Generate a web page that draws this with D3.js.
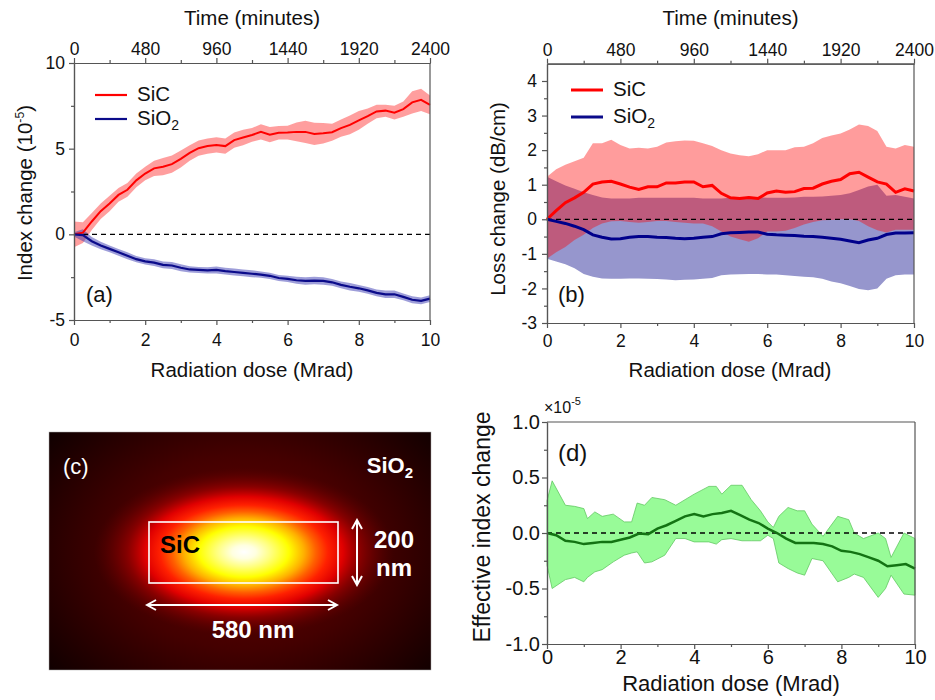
<!DOCTYPE html>
<html>
<head>
<script src="https://cdnjs.cloudflare.com/ajax/libs/d3/7.8.5/d3.min.js"></script>
<style>
  body { margin: 0; background: #fff; }
  svg text { font-family: "Liberation Sans", Arial, sans-serif; }
</style>
</head>
<body>
<svg id="fig" width="935" height="700"></svg>
<script>
// ---- data ----
const dose = [0,0.25,0.5,0.75,1,1.25,1.5,1.75,2,2.25,2.5,2.75,3,3.25,3.5,3.75,4,4.25,4.5,4.75,5,
              5.25,5.5,5.75,6,6.25,6.5,6.75,7,7.25,7.5,7.75,8,8.25,8.5,8.75,9,9.25,9.5,9.75,10];
const timeTicks = [0, 480, 960, 1440, 1920, 2400];

// (a) index change, units of 1e-5
const aSiC    = [0,0.1,0.75,1.35,1.8,2.3,2.6,3.15,3.55,3.85,3.95,4.1,4.4,4.75,5.03,5.15,5.22,5.15,5.5,5.65,5.8,
                 5.98,5.82,5.93,5.94,5.98,5.98,5.86,5.9,5.96,6.2,6.39,6.65,6.9,7.17,7.22,7.1,7.31,7.7,7.85,7.56];
const aSiCErr = [0.75,0.6,0.5,0.45,0.45,0.4,0.4,0.4,0.4,0.45,0.5,0.5,0.5,0.45,0.45,0.45,0.45,0.45,0.45,0.45,0.4,
                 0.45,0.45,0.4,0.4,0.55,0.65,0.65,0.6,0.5,0.5,0.55,0.55,0.45,0.4,0.35,0.4,0.45,0.65,0.65,0.55];
const aSiO2    = [0,-0.05,-0.4,-0.65,-0.85,-1.05,-1.25,-1.45,-1.58,-1.65,-1.78,-1.82,-1.95,-2.05,-2.08,-2.1,-2.08,
                  -2.15,-2.2,-2.25,-2.3,-2.35,-2.42,-2.55,-2.6,-2.68,-2.72,-2.7,-2.72,-2.8,-2.95,-3.06,-3.15,-3.27,
                  -3.42,-3.5,-3.5,-3.65,-3.82,-3.88,-3.75];
const aSiO2Err = [0.12,0.35,0.25,0.22,0.2,0.2,0.2,0.18,0.18,0.2,0.2,0.2,0.2,0.18,0.18,0.18,0.2,0.2,0.2,0.2,0.2,
                  0.18,0.18,0.18,0.18,0.2,0.22,0.22,0.22,0.2,0.2,0.22,0.2,0.2,0.2,0.22,0.22,0.2,0.2,0.2,0.2];

// (b) loss change, dB/cm
const bSiC   = [0,0.25,0.48,0.62,0.78,1.02,1.08,1.1,1.02,0.93,0.86,0.94,0.94,1.05,1.05,1.08,1.08,0.94,0.98,0.75,0.62,
                0.6,0.63,0.6,0.76,0.82,0.78,0.8,0.89,0.9,1.02,1.1,1.15,1.32,1.36,1.22,1.08,1.02,0.78,0.88,0.82];
const bSiCHi = [1.23,1.45,1.58,1.68,1.78,2.2,2.2,2.3,2.15,2.05,2.07,2.05,2.1,2.22,2.26,2.28,2.27,2.2,2.12,2.0,1.9,
                1.85,1.82,1.88,2.0,2.0,2.0,2.08,2.1,2.2,2.35,2.42,2.48,2.6,2.74,2.7,2.55,2.1,2.05,2.15,2.1];
const bSiCLo = [-1.14,-0.95,-0.8,-0.6,-0.45,-0.25,-0.12,-0.06,-0.05,-0.08,-0.1,-0.08,-0.05,-0.05,-0.08,-0.1,-0.12,
                -0.12,-0.2,-0.35,-0.5,-0.58,-0.65,-0.55,-0.35,-0.35,-0.33,-0.25,-0.15,-0.08,-0.03,-0.02,0,0,-0.05,
                -0.2,-0.32,-0.38,-0.3,-0.3,-0.3];
const bSiO2   = [0,-0.06,-0.12,-0.2,-0.3,-0.45,-0.52,-0.57,-0.56,-0.52,-0.5,-0.5,-0.52,-0.53,-0.55,-0.56,-0.55,-0.52,
                 -0.5,-0.42,-0.39,-0.38,-0.37,-0.37,-0.43,-0.45,-0.46,-0.47,-0.49,-0.5,-0.52,-0.55,-0.58,-0.63,-0.68,
                 -0.6,-0.55,-0.44,-0.4,-0.4,-0.39];
const bSiO2Hi = [1.23,1.1,0.98,0.88,0.78,0.7,0.63,0.6,0.6,0.6,0.62,0.62,0.62,0.62,0.62,0.62,0.62,0.6,0.6,0.6,0.62,
                 0.63,0.65,0.64,0.62,0.62,0.62,0.63,0.65,0.65,0.66,0.68,0.7,0.75,0.85,0.95,1.0,0.68,0.7,0.65,0.6];
const bSiO2Lo = [-1.14,-1.22,-1.3,-1.42,-1.58,-1.66,-1.71,-1.72,-1.72,-1.71,-1.71,-1.72,-1.73,-1.74,-1.76,-1.75,
                 -1.74,-1.72,-1.7,-1.62,-1.6,-1.59,-1.58,-1.58,-1.6,-1.6,-1.62,-1.64,-1.66,-1.68,-1.72,-1.8,-1.85,
                 -1.93,-2.02,-2.05,-2.0,-1.72,-1.62,-1.6,-1.6];

// (d) effective index change, units of 1e-5
const dMean  = [0,-0.02,-0.07,-0.08,-0.1,-0.09,-0.08,-0.08,-0.06,-0.04,-0.005,-0.01,0.04,0.07,0.11,0.15,0.17,0.15,
                0.17,0.18,0.2,0.16,0.12,0.09,0.04,0,-0.05,-0.09,-0.09,-0.09,-0.1,-0.12,-0.16,-0.17,-0.19,-0.22,
                -0.25,-0.3,-0.29,-0.28,-0.32];
const dBandDose = [0,0.14,0.5,0.75,1.0,1.1,1.3,1.5,1.8,2.1,2.3,2.45,2.65,2.85,3.2,3.5,3.75,4.0,4.4,4.6,4.75,5.0,
                   5.3,5.55,5.8,6.0,6.15,6.3,6.55,6.8,7.0,7.2,7.5,7.9,8.2,8.35,8.6,9.0,9.2,9.35,9.7,10];
const dHi = [0.29,0.47,0.25,0.24,0.22,0.13,0.19,0.15,0.17,0.1,0.1,0.27,0.25,0.32,0.3,0.25,0.3,0.35,0.42,0.42,0.35,
             0.43,0.43,0.3,0.2,0.1,0.05,0.15,0.23,0.2,0.2,0.08,-0.03,0.15,0.12,0.0,-0.05,0.0,-0.05,-0.22,0.0,-0.05];
const dLo = [-0.29,-0.5,-0.42,-0.4,-0.44,-0.4,-0.35,-0.33,-0.26,-0.2,-0.18,-0.17,-0.27,-0.26,-0.2,-0.05,-0.05,-0.08,
             -0.08,-0.1,-0.06,-0.05,-0.07,-0.07,-0.07,-0.02,-0.05,-0.27,-0.32,-0.36,-0.38,-0.23,-0.25,-0.44,-0.4,
             -0.37,-0.4,-0.58,-0.5,-0.38,-0.55,-0.56];

const svg = d3.select("#fig");
const axisColor = "#555";

function styleAxis(sel, fs) {
    sel.selectAll(".domain, .tick line").attr("stroke", axisColor).attr("stroke-width", 1.2);
    sel.selectAll("text").attr("font-size", fs).attr("fill", "#111")
        .attr("font-family", "'Liberation Sans', Arial, sans-serif");
}

// draws the box, major/minor ticks and optional time axis on top
function drawAxes(x, y, o) {
    const g = svg.append("g");
    const [x0, x1] = x.range();
    const [yb, yt] = y.range();

    g.append("g").attr("transform", `translate(0,${yb})`)
        .call(d3.axisBottom(x).tickValues(o.xMinor).tickSize(3).tickSizeOuter(0).tickFormat(""))
        .call(s => styleAxis(s, o.fs));
    g.append("g").attr("transform", `translate(0,${yb})`)
        .call(d3.axisBottom(x).tickValues(o.xMajor).tickSize(5).tickSizeOuter(0)
            .tickPadding(o.padX).tickFormat(d => String(d)))
        .call(s => styleAxis(s, o.fs));

    g.append("g").attr("transform", `translate(${x0},0)`)
        .call(d3.axisLeft(y).tickValues(o.yMinor).tickSize(3).tickSizeOuter(0).tickFormat(""))
        .call(s => styleAxis(s, o.fs));
    g.append("g").attr("transform", `translate(${x0},0)`)
        .call(d3.axisLeft(y).tickValues(o.yMajor).tickSize(5).tickSizeOuter(0)
            .tickPadding(o.padY).tickFormat(o.yFmt))
        .call(s => styleAxis(s, o.fs));

    if (o.time) {
        const t = d3.scaleLinear().domain([0, 2400]).range(x.range());
        g.append("g").attr("transform", `translate(0,${yt})`)
            .call(d3.axisTop(t).tickValues([240, 720, 1200, 1680, 2160]).tickSize(3).tickSizeOuter(0).tickFormat(""))
            .call(s => styleAxis(s, o.fs));
        g.append("g").attr("transform", `translate(0,${yt})`)
            .call(d3.axisTop(t).tickValues(timeTicks).tickSize(5).tickSizeOuter(0).tickPadding(3)
                .tickFormat(d => String(d)))
            .call(s => styleAxis(s, o.fs));
        g.append("text").attr("x", (x0 + x1) / 2).attr("y", 25).attr("text-anchor", "middle")
            .attr("font-size", 20.5).attr("fill", "#111").text("Time (minutes)");
    } else {
        g.append("line").attr("x1", x0).attr("x2", x1).attr("y1", yt).attr("y2", yt)
            .attr("stroke", axisColor).attr("stroke-width", 1.2);
    }
    g.append("line").attr("x1", x1).attr("x2", x1).attr("y1", yt).attr("y2", yb)
        .attr("stroke", axisColor).attr("stroke-width", 1.2);
    return g;
}

function zeroLine(x, y) {
    svg.append("line").attr("x1", x(0)).attr("x2", x(10)).attr("y1", y(0)).attr("y2", y(0))
        .attr("stroke", "#000").attr("stroke-width", 1.3).attr("stroke-dasharray", "5,4");
}

function legend(x0, y0, gap, lw) {
    const items = [["SiC", "#ff0000"], ["SiO", "#0b0b8a"]];
    items.forEach((it, i) => {
        const yy = y0 + i * gap;
        svg.append("line").attr("x1", x0).attr("x2", x0 + 32).attr("y1", yy).attr("y2", yy)
            .attr("stroke", it[1]).attr("stroke-width", lw);
        const t = svg.append("text").attr("x", x0 + 42).attr("y", yy + 5.5).attr("font-size", 20.5)
            .attr("fill", "#111").text(it[0]);
        if (i === 1) t.append("tspan").attr("dy", 5).attr("font-size", 14).text("2");
    });
}

function yLabel(x, y, size, parts) {
    const t = svg.append("text").attr("transform", `translate(${x},${y}) rotate(-90)`)
        .attr("text-anchor", "middle").attr("font-size", size).attr("fill", "#111");
    parts.forEach(p => {
        const s = t.append("tspan").text(p.text);
        if (p.sup) s.attr("dy", -8).attr("font-size", size * 0.6);
        if (p.after) s.attr("dy", 8);
    });
}

const doseTicks = [0, 2, 4, 6, 8, 10];
const doseMinor = [1, 3, 5, 7, 9];

// ---------- panel (a) ----------
{
    const x = d3.scaleLinear().domain([0, 10]).range([74, 430]);
    const y = d3.scaleLinear().domain([-5, 10]).range([320, 63]);

    const band = (m, e) => d3.area().x((d, i) => x(dose[i]))
        .y0((d, i) => y(m[i] - e[i])).y1((d, i) => y(m[i] + e[i]));
    const line = m => d3.line().x((d, i) => x(dose[i])).y((d, i) => y(m[i]));

    svg.append("path").datum(dose).attr("d", band(aSiC, aSiCErr)).attr("fill", "rgba(255,0,0,0.38)");
    svg.append("path").datum(dose).attr("d", band(aSiO2, aSiO2Err)).attr("fill", "rgba(40,40,170,0.45)");
    zeroLine(x, y);
    svg.append("path").datum(dose).attr("d", line(aSiC)).attr("fill", "none")
        .attr("stroke", "#ff0000").attr("stroke-width", 2);
    svg.append("path").datum(dose).attr("d", line(aSiO2)).attr("fill", "none")
        .attr("stroke", "#0b0b8a").attr("stroke-width", 2.2);

    drawAxes(x, y, {
        xMajor: doseTicks, xMinor: doseMinor, yMajor: [-5, 0, 5, 10], yMinor: [-2.5, 2.5, 7.5],
        yFmt: d => String(d), fs: 17.5, padX: 9, padY: 4, time: true
    });
    legend(95, 95, 24, 2.2);
    svg.append("text").attr("x", 86).attr("y", 302).attr("font-size", 22).attr("fill", "#111").text("(a)");
    svg.append("text").attr("x", 252).attr("y", 377).attr("text-anchor", "middle")
        .attr("font-size", 20.5).attr("fill", "#111").text("Radiation dose (Mrad)");
    yLabel(32, 193, 20.5, [{ text: "Index change (10" }, { text: "-5", sup: true }, { text: ")", after: true }]);
}

// ---------- panel (b) ----------
{
    const x = d3.scaleLinear().domain([0, 10]).range([547, 914]);
    const y = d3.scaleLinear().domain([-3, 4.5]).range([323, 63.7]);

    const band = (lo, hi) => d3.area().x((d, i) => x(dose[i])).y0((d, i) => y(lo[i])).y1((d, i) => y(hi[i]));
    const line = m => d3.line().x((d, i) => x(dose[i])).y((d, i) => y(m[i]));

    svg.append("path").datum(dose).attr("d", band(bSiO2Lo, bSiO2Hi)).attr("fill", "#9696cd");
    svg.append("path").datum(dose).attr("d", band(bSiCLo, bSiCHi)).attr("fill", "rgba(255,0,0,0.39)");
    zeroLine(x, y);
    svg.append("path").datum(dose).attr("d", line(bSiC)).attr("fill", "none")
        .attr("stroke", "#ff0000").attr("stroke-width", 3);
    svg.append("path").datum(dose).attr("d", line(bSiO2)).attr("fill", "none")
        .attr("stroke", "#00008b").attr("stroke-width", 3);

    drawAxes(x, y, {
        xMajor: doseTicks, xMinor: doseMinor, yMajor: [-3, -2, -1, 0, 1, 2, 3, 4],
        yMinor: [-2.5, -1.5, -0.5, 0.5, 1.5, 2.5, 3.5], yFmt: d => String(d), fs: 17.5, padX: 7, padY: 5, time: true
    });
    legend(571, 90, 27, 3);
    svg.append("text").attr("x", 558).attr("y", 302).attr("font-size", 22).attr("fill", "#111").text("(b)");
    svg.append("text").attr("x", 730).attr("y", 377).attr("text-anchor", "middle")
        .attr("font-size", 20.5).attr("fill", "#111").text("Radiation dose (Mrad)");
    yLabel(505, 199, 20.5, [{ text: "Loss change (dB/cm)" }]);
}

// ---------- panel (d) ----------
{
    const x = d3.scaleLinear().domain([0, 10]).range([547, 915]);
    const y = d3.scaleLinear().domain([-1, 1]).range([644, 422]);

    const band = d3.area().x((d, i) => x(dBandDose[i])).y0((d, i) => y(dLo[i])).y1((d, i) => y(dHi[i]));
    svg.append("path").datum(dBandDose).attr("d", band).attr("fill", "#98fb98")
        .attr("stroke", "#62c862").attr("stroke-width", 0.8);
    zeroLine(x, y);
    svg.append("path").datum(dose)
        .attr("d", d3.line().x((d, i) => x(dose[i])).y((d, i) => y(dMean[i])))
        .attr("fill", "none").attr("stroke", "#137313").attr("stroke-width", 2.5);

    drawAxes(x, y, {
        xMajor: doseTicks, xMinor: doseMinor, yMajor: [-1, -0.5, 0, 0.5, 1],
        yMinor: [-0.75, -0.25, 0.25, 0.75], yFmt: d => d.toFixed(1), fs: 20, padX: 1, padY: 2, time: false
    });
    svg.append("text").attr("x", 558).attr("y", 461).attr("font-size", 24).attr("fill", "#111").text("(d)");
    svg.append("text").attr("x", 731).attr("y", 691).attr("text-anchor", "middle")
        .attr("font-size", 22).attr("fill", "#111").text("Radiation dose (Mrad)");
    yLabel(490, 527, 23, [{ text: "Effective index change" }]);
    const mult = svg.append("text").attr("x", 544).attr("y", 413).attr("font-size", 16).attr("fill", "#111");
    mult.append("tspan").text("×10");
    mult.append("tspan").attr("dy", -8).attr("font-size", 11).text("-5");
}

// ---------- panel (c): mode profile ----------
{
    const defs = svg.append("defs");
    const cx = 244, cy = 552;

    // broad dark-red background
    const bg = defs.append("radialGradient").attr("id", "bg").attr("gradientUnits", "userSpaceOnUse")
        .attr("cx", cx).attr("cy", cy).attr("r", 260)
        .attr("gradientTransform", `translate(${cx},${cy}) scale(1,0.75) translate(${-cx},${-cy})`);
    [[0, "#6a0000"], [0.5, "#440000"], [0.8, "#220000"], [1, "#0c0000"]]
        .forEach(s => bg.append("stop").attr("offset", s[0]).attr("stop-color", s[1]));

    // bright mode spot, fading to transparent
    const grad = defs.append("radialGradient").attr("id", "glow").attr("gradientUnits", "userSpaceOnUse")
        .attr("cx", cx).attr("cy", cy).attr("r", 150)
        .attr("gradientTransform", `translate(${cx},${cy}) scale(1,0.56) translate(${-cx},${-cy})`);
    [[0, "#ffffff", 1], [0.08, "#ffffe0", 1], [0.18, "#ffff80", 1], [0.3, "#ffff00", 1], [0.4, "#ffb000", 1],
     [0.48, "#ff6000", 1], [0.56, "#ff2000", 1], [0.66, "#e00000", 1], [0.78, "#a00000", 0.7], [1, "#600000", 0]]
        .forEach(s => grad.append("stop").attr("offset", s[0]).attr("stop-color", s[1]).attr("stop-opacity", s[2]));

    const mk = defs.append("marker").attr("id", "head").attr("viewBox", "0 -6 12 12")
        .attr("refX", 10).attr("refY", 0).attr("markerUnits", "userSpaceOnUse")
        .attr("markerWidth", 12).attr("markerHeight", 12).attr("orient", "auto-start-reverse");
    mk.append("path").attr("d", "M1,-5 L10,0 L1,5").attr("fill", "none")
        .attr("stroke", "#fff").attr("stroke-width", 2);

    svg.append("rect").attr("x", 49).attr("y", 432).attr("width", 382).attr("height", 238)
        .attr("fill", "url(#bg)").attr("stroke", "#aaa").attr("stroke-width", 0.5);
    svg.append("rect").attr("x", 49).attr("y", 432).attr("width", 382).attr("height", 238)
        .attr("fill", "url(#glow)");
    svg.append("rect").attr("x", 149).attr("y", 522).attr("width", 189).attr("height", 61)
        .attr("fill", "none").attr("stroke", "#fff").attr("stroke-width", 1.6);

    svg.append("line").attr("x1", 147).attr("x2", 337).attr("y1", 605).attr("y2", 605)
        .attr("stroke", "#fff").attr("stroke-width", 2)
        .attr("marker-start", "url(#head)").attr("marker-end", "url(#head)");
    svg.append("line").attr("x1", 357).attr("x2", 357).attr("y1", 520).attr("y2", 585)
        .attr("stroke", "#fff").attr("stroke-width", 2)
        .attr("marker-start", "url(#head)").attr("marker-end", "url(#head)");

    svg.append("text").attr("x", 63).attr("y", 474).attr("font-size", 22).attr("fill", "#fff").text("(c)");
    const so = svg.append("text").attr("x", 413).attr("y", 473).attr("text-anchor", "end")
        .attr("font-size", 22).attr("font-weight", "bold").attr("fill", "#fff");
    so.append("tspan").text("SiO");
    so.append("tspan").attr("dy", 5).attr("font-size", 15).text("2");
    svg.append("text").attr("x", 160).attr("y", 553).attr("font-size", 24).attr("font-weight", "bold")
        .attr("fill", "#000").text("SiC");
    svg.append("text").attr("x", 394).attr("y", 548).attr("text-anchor", "middle").attr("font-size", 24)
        .attr("font-weight", "bold").attr("fill", "#fff").text("200");
    svg.append("text").attr("x", 394).attr("y", 576).attr("text-anchor", "middle").attr("font-size", 24)
        .attr("font-weight", "bold").attr("fill", "#fff").text("nm");
    svg.append("text").attr("x", 253).attr("y", 638).attr("text-anchor", "middle").attr("font-size", 24)
        .attr("font-weight", "bold").attr("fill", "#fff").text("580 nm");
}
</script>
</body>
</html>
